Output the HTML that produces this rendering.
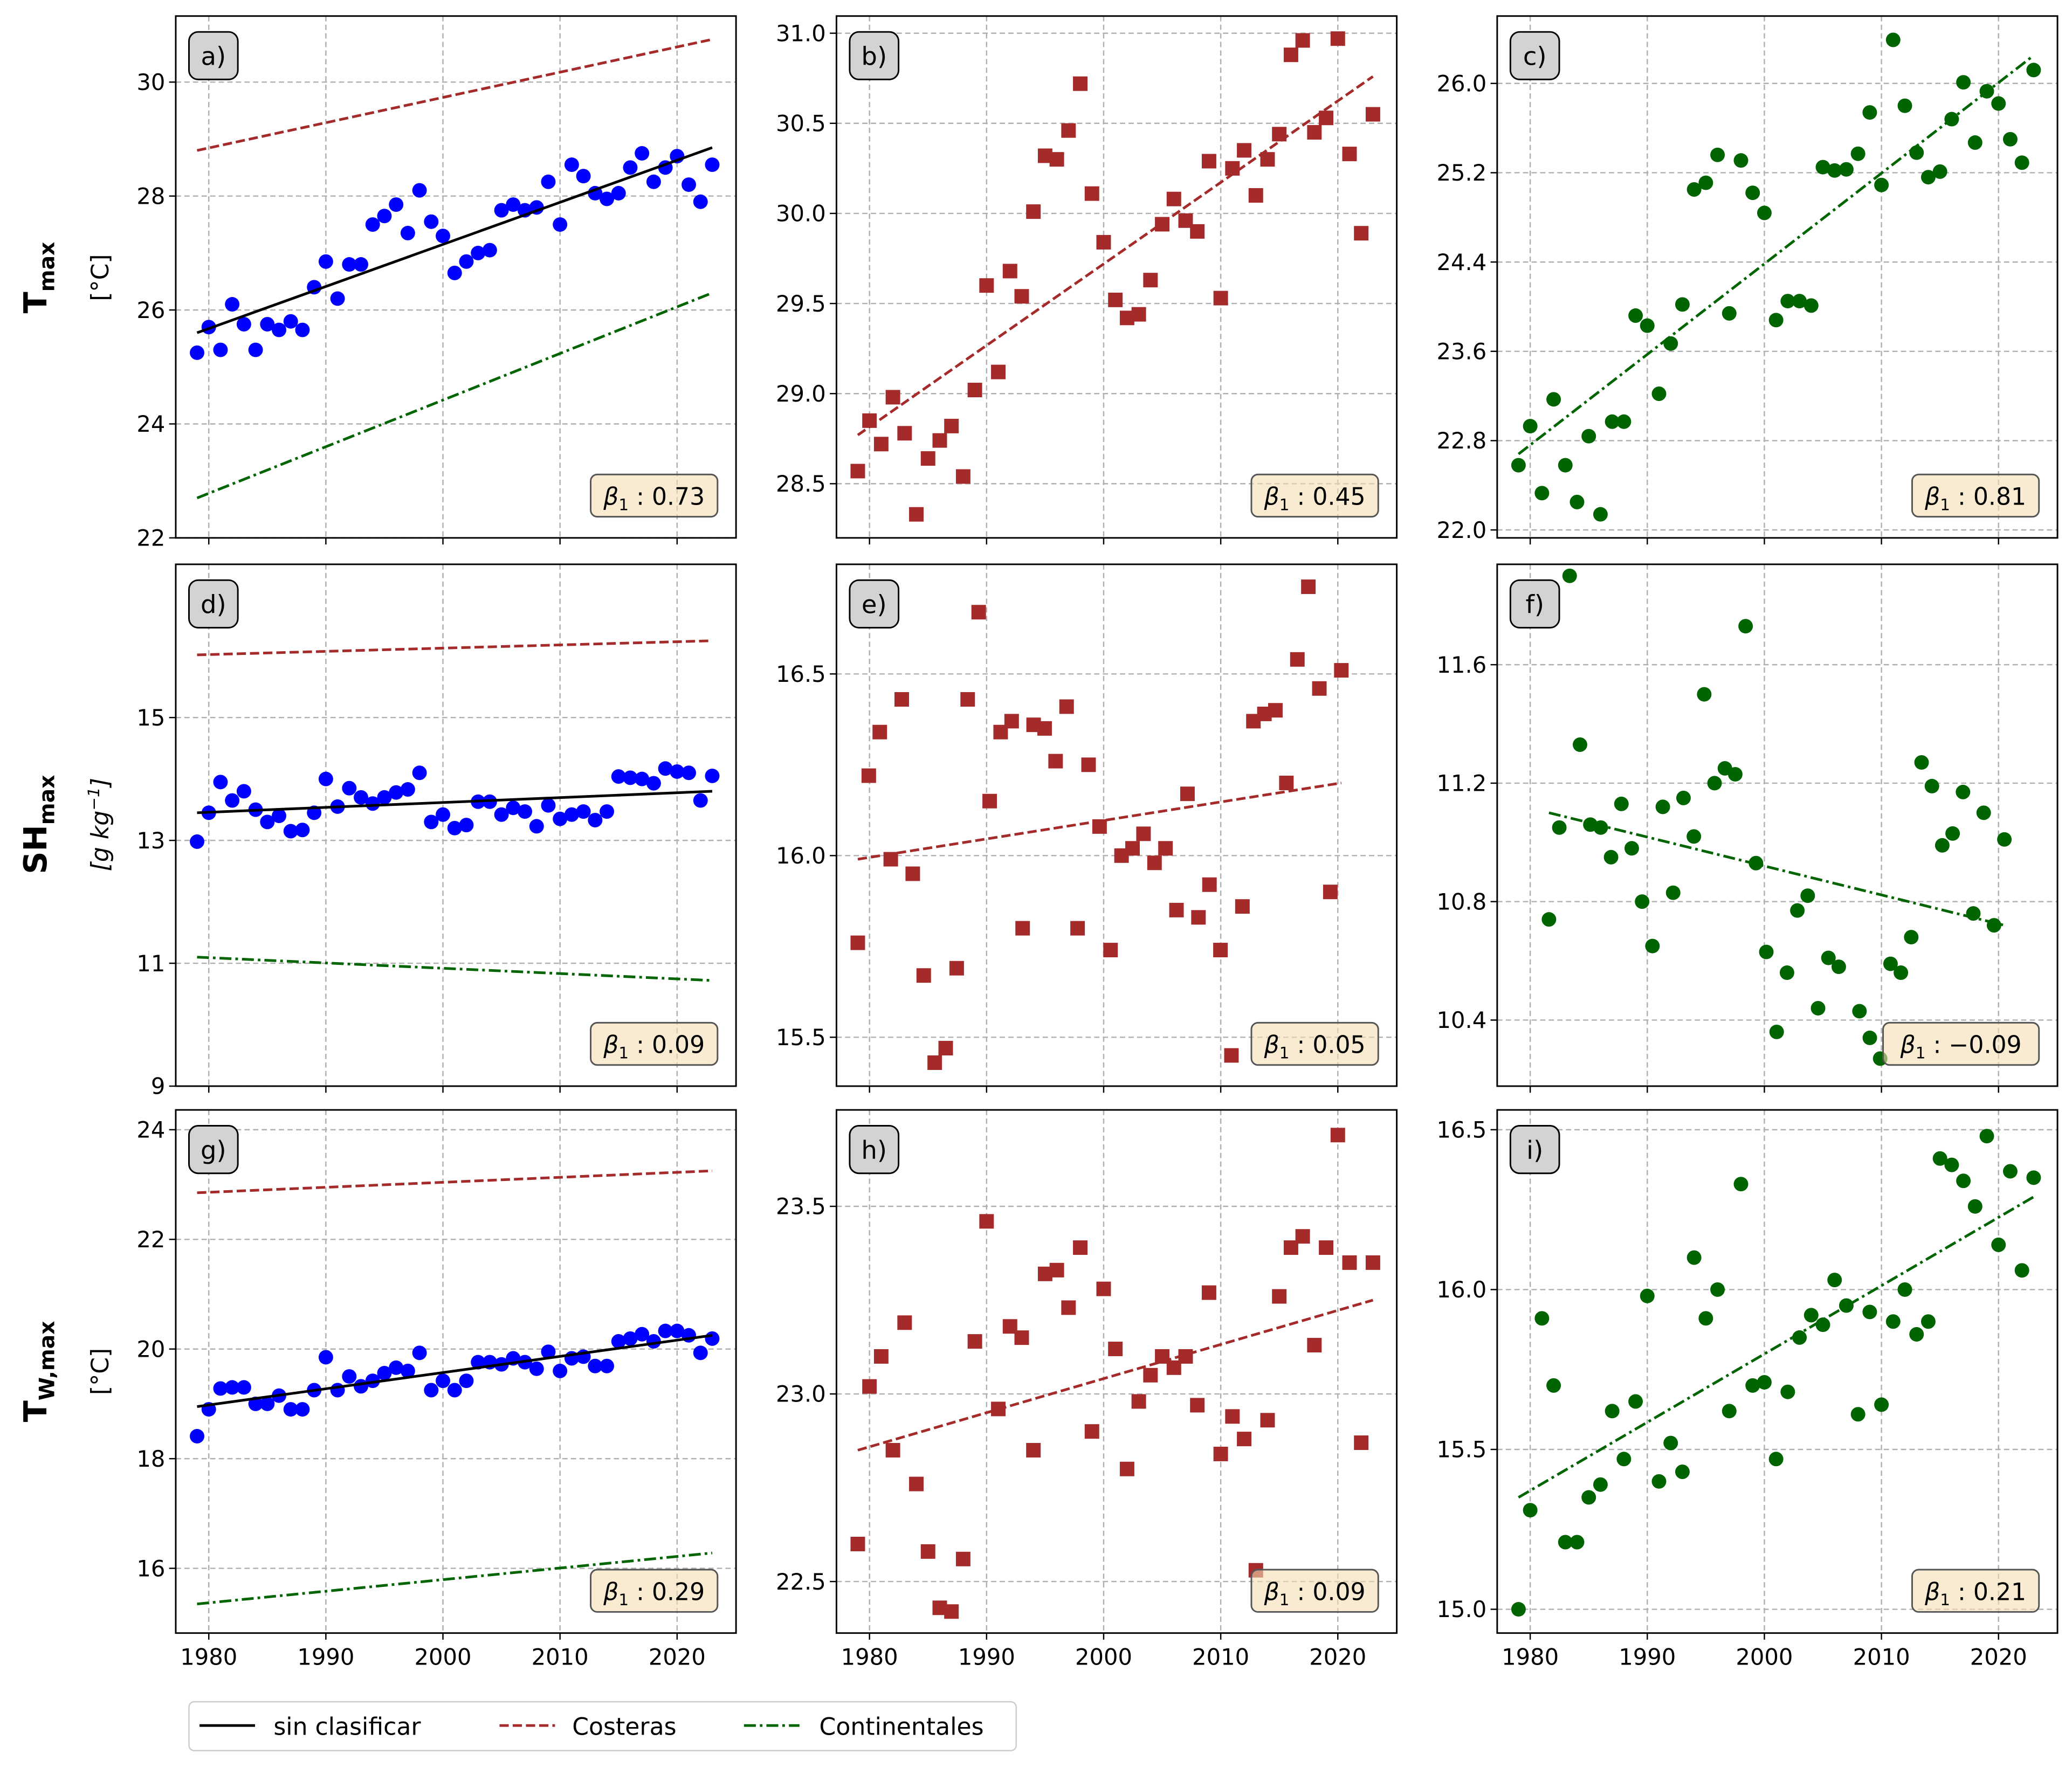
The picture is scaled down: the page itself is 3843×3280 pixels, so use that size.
<!DOCTYPE html>
<html><head><meta charset="utf-8">
<style>
html,body{margin:0;padding:0;background:#fff;}
svg{display:block;font-family:"DejaVu Sans","Liberation Sans",sans-serif;}
</style></head>
<body>
<svg id="fig" width="3843" height="3280" viewBox="0 0 1568 1338" xmlns="http://www.w3.org/2000/svg">
<rect width="1568" height="1338" fill="#fff"/>
<!-- row labels -->
<text transform="translate(35,210) rotate(-90)" text-anchor="middle" font-size="24" font-weight="bold">T<tspan font-size="16" dy="6">max</tspan></text>
<text transform="translate(82,210) rotate(-90)" text-anchor="middle" font-size="18">[°C]</text>
<text transform="translate(35,624) rotate(-90)" text-anchor="middle" font-size="24" font-weight="bold">SH<tspan font-size="16" dy="6">max</tspan></text>
<text transform="translate(82,624) rotate(-90)" text-anchor="middle" font-size="18" font-style="italic">[g kg<tspan font-size="12" dy="-7">−1</tspan><tspan dy="7">]</tspan></text>
<text transform="translate(35,1038) rotate(-90)" text-anchor="middle" font-size="24" font-weight="bold">T<tspan font-size="16" dy="6">W,max</tspan></text>
<text transform="translate(82,1038) rotate(-90)" text-anchor="middle" font-size="18">[°C]</text>
<g id="panels"></g>
<!-- legend -->
<g>
<rect x="143" y="1288" width="626" height="37" rx="4" fill="#fff" stroke="#ccc" stroke-width="1"/>
<line x1="151" y1="1306" x2="193" y2="1306" stroke="#000" stroke-width="2"/>
<text x="207" y="1313" font-size="18">sin clasificar</text>
<line x1="378" y1="1306" x2="420" y2="1306" stroke="#a52a2a" stroke-width="2" stroke-dasharray="7,3"/>
<text x="433" y="1313" font-size="18">Costeras</text>
<line x1="563" y1="1306" x2="605" y2="1306" stroke="#006400" stroke-width="2" stroke-dasharray="9,3,2,3"/>
<text x="620" y="1313" font-size="18">Continentales</text>
</g>
</svg>
<script>
const years=[];for(let y=1979;y<=2023;y++)years.push(y);
const xTicks=[1980,1990,2000,2010,2020];
const valsA=[25.25,25.7,25.3,26.1,25.75,25.3,25.75,25.65,25.8,25.65,26.4,26.85,26.2,26.8,26.8,27.5,27.65,27.85,27.35,28.1,27.55,27.3,26.65,26.85,27.0,27.05,27.75,27.85,27.75,27.8,28.25,27.5,28.55,28.35,28.05,27.95,28.05,28.5,28.75,28.25,28.5,28.7,28.2,27.9,28.55];
const valsB=[28.57,28.85,28.72,28.98,28.78,28.33,28.64,28.74,28.82,28.54,29.02,29.6,29.12,29.68,29.54,30.01,30.32,30.3,30.46,30.72,30.11,29.84,29.52,29.42,29.44,29.63,29.94,30.08,29.96,29.9,30.29,29.53,30.25,30.35,30.1,30.3,30.44,30.88,30.96,30.45,30.53,30.97,30.33,29.89,30.55];
const valsC=[22.58,22.93,22.33,23.17,22.58,22.25,22.84,22.14,22.97,22.97,23.92,23.83,23.22,23.67,24.02,25.05,25.11,25.36,23.94,25.31,25.02,24.84,23.88,24.05,24.05,24.01,25.25,25.22,25.23,25.37,25.74,25.09,26.39,25.8,25.38,25.16,25.21,25.68,26.01,25.47,25.93,25.82,25.5,25.29,26.12];
const valsD=[12.98,13.45,13.95,13.65,13.8,13.5,13.3,13.4,13.15,13.17,13.45,14.0,13.55,13.85,13.7,13.6,13.7,13.78,13.83,14.1,13.3,13.42,13.2,13.25,13.63,13.63,13.42,13.53,13.47,13.23,13.57,13.35,13.42,13.47,13.33,13.47,14.04,14.02,14.0,13.93,14.17,14.12,14.1,13.65,14.05];
const valsE=[15.76,16.22,16.34,15.99,16.43,15.95,15.67,15.43,15.47,15.69,16.43,16.67,16.15,16.34,16.37,15.80,16.36,16.35,16.26,16.41,15.80,16.25,16.08,15.74,16.00,16.02,16.06,15.98,16.02,15.85,16.17,15.83,15.92,15.74,15.45,15.86,16.37,16.39,16.40,16.20,16.54,16.74,16.46,15.90,16.51];
const valsF=[10.74,11.05,11.9,11.33,11.06,11.05,10.95,11.13,10.98,10.80,10.65,11.12,10.83,11.15,11.02,11.50,11.20,11.25,11.23,11.73,10.93,10.63,10.36,10.56,10.77,10.82,10.44,10.61,10.58,10.13,10.43,10.34,10.27,10.59,10.56,10.68,11.27,11.19,10.99,11.03,11.17,10.76,11.10,10.72,11.01];
const valsG=[18.41,18.9,19.28,19.3,19.3,19.0,19.0,19.15,18.9,18.9,19.25,19.85,19.25,19.5,19.32,19.42,19.56,19.66,19.6,19.93,19.25,19.42,19.25,19.42,19.76,19.76,19.72,19.83,19.76,19.64,19.95,19.6,19.83,19.86,19.69,19.69,20.14,20.19,20.27,20.14,20.33,20.33,20.25,19.93,20.19];
const valsH=[22.6,23.02,23.1,22.85,23.19,22.76,22.58,22.43,22.42,22.56,23.14,23.46,22.96,23.18,23.15,22.85,23.32,23.33,23.23,23.39,22.9,23.28,23.12,22.8,22.98,23.05,23.1,23.07,23.1,22.97,23.27,22.84,22.94,22.88,22.53,22.93,23.26,23.39,23.42,23.13,23.39,23.69,23.35,22.87,23.35];
const valsI=[15.0,15.31,15.91,15.7,15.21,15.21,15.35,15.39,15.62,15.47,15.65,15.98,15.4,15.52,15.43,16.1,15.91,16.0,15.62,16.33,15.7,15.71,15.47,15.68,15.85,15.92,15.89,16.03,15.95,15.61,15.93,15.64,15.9,16.0,15.86,15.9,16.41,16.39,16.34,16.26,16.48,16.14,16.37,16.06,16.35];
const trendsA=[[25.6,28.85],[28.8,30.75],[22.7,26.3]];
const trendsD=[[13.45,13.8],[16.02,16.25],[11.1,10.72]];
const trendsG=[[18.95,20.25],[22.85,23.25],[15.35,16.28]];
const trendB=[28.77,30.76], trendC=[22.68,26.25], trendE=[15.99,16.2], trendF=[11.1,10.72], trendH=[22.85,23.25], trendI=[15.35,16.29];
const ticksA=[22,24,26,28,30], ticksB=[28.5,29.0,29.5,30.0,30.5,31.0], ticksC=[22.0,22.8,23.6,24.4,25.2,26.0];
const ticksD=[9,11,13,15], ticksE=[15.5,16.0,16.5], ticksF=[10.4,10.8,11.2,11.6];
const ticksG=[16,18,20,22,24], ticksH=[22.5,23.0,23.5], ticksI=[15.0,15.5,16.0,16.5];
const betas=["0.73","0.45","0.81","0.09","0.05","−0.09","0.29","0.09","0.21"];
const panelLetters=["a)","b)","c)","d)","e)","f)","g)","h)","i)"];

const NS="http://www.w3.org/2000/svg";
const root=document.getElementById('panels');
function mk(tag,attrs,parent){const e=document.createElementNS(NS,tag);for(const k in attrs)e.setAttribute(k,attrs[k]);(parent||root).appendChild(e);return e;}
const colX=[133,633,1133], rowY=[[12,407],[427,822],[840,1236]];
const W=424;
// y-calibration: [v0,px0,v1,px1]
const panels=[
 {r:0,c:0,vals:valsA,kind:'circle',color:'#0000ff',ticks:ticksA,fmt:0,cal:[22,407,30,62],trends:trendsA,yr:[1979,2023]},
 {r:0,c:1,vals:valsB,kind:'square',color:'#a52a2a',ticks:ticksB,fmt:1,cal:[28.5,366,31.0,25],trends:[null,trendB,null],yr:[1979,2023]},
 {r:0,c:2,vals:valsC,kind:'circle',color:'#006400',ticks:ticksC,fmt:1,cal:[22.0,401,26.0,63],trends:[null,null,trendC],yr:[1979,2023]},
 {r:1,c:0,vals:valsD,kind:'circle',color:'#0000ff',ticks:ticksD,fmt:0,cal:[9,822,15,543],trends:trendsD,yr:[1979,2023]},
 {r:1,c:1,vals:valsE,kind:'square',color:'#a52a2a',ticks:ticksE,fmt:1,cal:[15.5,785,16.5,510],trends:[null,trendE,null],yr:[1979,2020.3]},
 {r:1,c:2,vals:valsF,kind:'circle',color:'#006400',ticks:ticksF,fmt:1,cal:[10.4,772,11.6,503],trends:[null,null,trendF],yr:[1981.6,2020.5]},
 {r:2,c:0,vals:valsG,kind:'circle',color:'#0000ff',ticks:ticksG,fmt:0,cal:[16,1187,24,855],trends:trendsG,yr:[1979,2023]},
 {r:2,c:1,vals:valsH,kind:'square',color:'#a52a2a',ticks:ticksH,fmt:1,cal:[22.5,1197,23.5,913],trends:[null,trendH,null],yr:[1979,2023]},
 {r:2,c:2,vals:valsI,kind:'circle',color:'#006400',ticks:ticksI,fmt:1,cal:[15.0,1218,16.5,855],trends:[null,null,trendI],yr:[1979,2023]},
];
const trendStyles=[{s:'#000',d:''},{s:'#a52a2a',d:'7,3'},{s:'#006400',d:'9,3,2,3'}];
panels.forEach((p,i)=>{
  const x0=colX[p.c], y0=rowY[p.r][0], y1=rowY[p.r][1];
  const g=mk('g',{});
  
  
  const xs=yr=>x0+25+(yr-1980)*8.86;
  const ys=v=>p.cal[1]+(v-p.cal[0])*(p.cal[3]-p.cal[1])/(p.cal[2]-p.cal[0]);
  const xi=idx=>xs(p.yr[0]+(p.yr[1]-p.yr[0])*idx/(p.vals.length-1));
  const clip='clip'+i;
  const cp=mk('clipPath',{id:clip},g);mk('rect',{x:x0,y:y0,width:W,height:y1-y0},cp);
  // grid
  xTicks.forEach(t=>{const l=mk('line',{x1:xs(t),x2:xs(t),y1:y0,y2:y1,stroke:'#b0b0b0','stroke-width':1,'stroke-dasharray':'4,2.5'},g);});
  p.ticks.forEach(t=>{const yy=ys(t);const l=mk('line',{x1:x0,x2:x0+W,y1:yy,y2:yy,stroke:'#b0b0b0','stroke-width':1,'stroke-dasharray':'4,2.5'},g);
    mk('line',{x1:x0-5,x2:x0,y1:yy,y2:yy,stroke:'#000','stroke-width':1},g);
    const tx=mk('text',{x:x0-8,y:yy+6,'text-anchor':'end','font-size':17},g);tx.textContent=p.fmt?t.toFixed(1):String(t);
    });
  xTicks.forEach(t=>{mk('line',{x1:xs(t),x2:xs(t),y1:y1,y2:y1+5,stroke:'#000','stroke-width':1},g);
    if(p.r===2){const tx=mk('text',{x:xs(t),y:y1+24,'text-anchor':'middle','font-size':17},g);tx.textContent=t;
      }});
  // points
  const pg=mk('g',{'clip-path':'url(#'+clip+')'},g);
  p.vals.forEach((v,k)=>{const cx=xi(k),cy=ys(v);let m;
    if(p.kind==='circle')m=mk('circle',{cx:cx,cy:cy,r:5.5,fill:p.color},pg);
    else m=mk('rect',{x:cx-5.5,y:cy-5.5,width:11,height:11,fill:p.color},pg);
    });
  // trends
  p.trends.forEach((tr,k)=>{if(!tr)return;const st=trendStyles[k];
    const l=mk('line',{x1:xi(0),y1:ys(tr[0]),x2:xi(p.vals.length-1),y2:ys(tr[1]),stroke:st.s,'stroke-width':2,'stroke-dasharray':st.d},pg);
    });
  mk('rect',{x:x0,y:y0,width:W,height:y1-y0,fill:'none',stroke:'#000','stroke-width':1.2},g);
  // letter box
  const lb=mk('rect',{x:x0+10,y:y0+12,width:37,height:36,rx:7,fill:'#d3d3d3',stroke:'#000','stroke-width':1.2},g);
  
  const lt=mk('text',{x:x0+28.5,y:y0+37,'text-anchor':'middle','font-size':19},g);lt.textContent=panelLetters[i];
  
  // beta box
  const bw=betas[i].startsWith('−')?118:96;
  const bb=mk('rect',{x:x0+W-14-bw,y:y1-48,width:bw,height:32,rx:5,fill:'#f5deb3','fill-opacity':0.6,stroke:'#555','stroke-width':1.2},g);
  
  const bt=mk('text',{x:x0+W-14-bw/2,y:y1-25,'text-anchor':'middle','font-size':18},g);
  bt.innerHTML='<tspan font-style="italic">β</tspan><tspan font-size="12" dy="4">1</tspan><tspan dy="-4"> : '+betas[i]+'</tspan>';
  
});
</script>
</body></html>
